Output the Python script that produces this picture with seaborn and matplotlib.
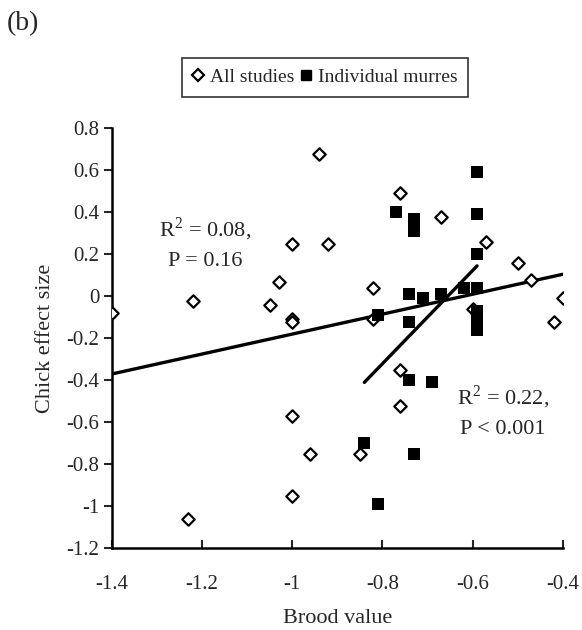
import numpy as np
import pandas as pd
import matplotlib
matplotlib.use("Agg")
import matplotlib.pyplot as plt
from matplotlib.lines import Line2D
import seaborn as sns

# All studies (open diamonds)
all_x = [-1.40, -1.22, -1.05, -1.03, -1.00, -1.00, -1.00, -0.94, -0.92, -0.76,
         -0.67, -0.57, -0.50, -0.47, -0.40, -0.42, -0.82, -0.82, -0.60, -1.23,
         -1.00, -0.96, -1.00, -0.76, -0.76, -0.85]
all_y = [-0.08, -0.02, -0.04, 0.07, 0.25, -0.11, -0.12, 0.68, 0.25, 0.49,
         0.38, 0.26, 0.16, 0.08, -0.01, -0.12, 0.04, -0.11, -0.06, -1.06,
         -0.57, -0.75, -0.95, -0.35, -0.52, -0.75]

# Individual murres (filled squares)
mur_x = [-0.59, -0.59, -0.59, -0.77, -0.73, -0.73, -0.59, -0.62, -0.67, -0.71,
         -0.74, -0.81, -0.74, -0.59, -0.59, -0.59, -0.74, -0.69, -0.84, -0.73,
         -0.81]
mur_y = [0.59, 0.39, 0.20, 0.40, 0.37, 0.31, 0.04, 0.04, 0.01, -0.01,
         0.01, -0.09, -0.12, -0.07, -0.11, -0.16, -0.40, -0.41, -0.70, -0.75,
         -0.99]

# fitted lines
fit_all_x = [-1.40, -0.40]
fit_all_y = [-0.37, 0.105]
fit_mur_x = [-0.84, -0.59]
fit_mur_y = [-0.41, 0.145]

df_all = pd.DataFrame({"Brood value": all_x, "Chick effect size": all_y})
df_mur = pd.DataFrame({"Brood value": mur_x, "Chick effect size": mur_y})

sns.set_style("ticks")
plt.rcParams["font.family"] = ["Liberation Serif", "DejaVu Serif"]
plt.rcParams["mathtext.fontset"] = "custom"
plt.rcParams["mathtext.rm"] = "Liberation Serif"

fig = plt.figure(figsize=(5.82, 6.30), dpi=100)
ax = fig.add_axes([0.192, 0.1297, 0.775, 0.6666])

sns.lineplot(x=fit_all_x, y=fit_all_y, ax=ax, color="black", lw=2.4)
sns.lineplot(x=fit_mur_x, y=fit_mur_y, ax=ax, color="black", lw=2.4)
sns.scatterplot(data=df_all, x="Brood value", y="Chick effect size", ax=ax,
                marker="D", s=40, facecolor="white", edgecolor="black", linewidth=1.6, zorder=3)
sns.scatterplot(data=df_mur, x="Brood value", y="Chick effect size", ax=ax,
                marker="s", s=75, color="black", edgecolor="black", linewidth=0, zorder=4)

ax.set_xlim(-1.4, -0.4)
ax.set_ylim(-1.2, 0.8)
ax.set_xticks(np.arange(-1.4, -0.39, 0.2))
ax.set_xticklabels(["-1.4", "-1.2", "-1", "-0.8", "-0.6", "-0.4"])
ax.set_yticks(np.arange(-1.2, 0.81, 0.2))
ax.set_yticklabels(["-1.2", "-1", "-0.8", "-0.6", "-0.4", "-0.2", "0", "0.2", "0.4", "0.6", "0.8"])
ax.tick_params(axis="x", direction="in", length=6, width=1.5, labelsize=15, pad=19)
ax.tick_params(axis="y", direction="out", length=6, width=1.5, labelsize=15, pad=3)
for sp in ["left", "bottom"]:
    ax.spines[sp].set_linewidth(1.8)
    ax.spines[sp].set_color("black")
sns.despine(ax=ax)
ax.set_xlabel("Brood value", fontsize=16, labelpad=11)
ax.set_ylabel("Chick effect size", fontsize=16, labelpad=8)

ax.text(-1.193, 0.318, "R$^2$ = 0.08,", ha="center", va="center", fontsize=16)
ax.text(-1.193, 0.167, "P = 0.16", ha="center", va="center", fontsize=16)
ax.text(-0.533, -0.482, "R$^2$ = 0.22,", ha="center", va="center", fontsize=16)
ax.text(-0.533, -0.634, "P < 0.001", ha="center", va="center", fontsize=16)

fig.text(0.012, 0.962, "(b)", fontsize=20, ha="left", va="center")

handles = [
    Line2D([], [], marker="D", ls="none", markersize=6, markerfacecolor="white",
           markeredgecolor="black", markeredgewidth=1.6),
    Line2D([], [], marker="s", ls="none", markersize=7.5, color="black"),
]
leg = fig.legend(handles, ["All studies", "Individual murres"], ncol=2,
                 loc="center", bbox_to_anchor=(0.558, 0.877), fontsize=14,
                 frameon=True, fancybox=False, edgecolor="black",
                 handlelength=0.6, handletextpad=0.3, columnspacing=0.3,
                 borderpad=0.55, borderaxespad=0)
leg.get_frame().set_linewidth(1.2)

fig.savefig("out.png", dpi=100)
